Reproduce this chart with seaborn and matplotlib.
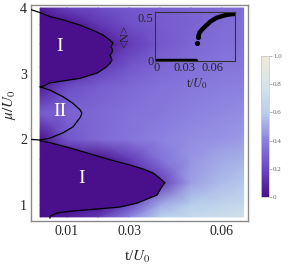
import numpy as np
import pandas as pd
import seaborn as sns
import matplotlib.pyplot as plt
from matplotlib.colors import LinearSegmentedColormap
from matplotlib.patches import Rectangle

# Heatmap grid
t_grid = [0.0013, 0.01, 0.02, 0.03, 0.04, 0.05, 0.06, 0.067]
mu_grid = [0.82, 1.0, 1.34, 1.7, 2.0, 2.4, 2.8, 3.1, 3.45, 3.75, 4.0]
heat_values = [
    [0.00, 0.05, 0.15, 0.40, 0.60, 0.68, 0.72, 0.75],
    [0.00, 0.00, 0.00, 0.20, 0.50, 0.60, 0.65, 0.68],
    [0.00, 0.00, 0.00, 0.00, 0.15, 0.48, 0.55, 0.58],
    [0.00, 0.00, 0.00, 0.15, 0.35, 0.45, 0.50, 0.52],
    [0.00, 0.25, 0.32, 0.36, 0.40, 0.43, 0.45, 0.47],
    [0.28, 0.30, 0.32, 0.35, 0.37, 0.40, 0.42, 0.43],
    [0.05, 0.22, 0.28, 0.32, 0.35, 0.37, 0.39, 0.40],
    [0.00, 0.00, 0.15, 0.25, 0.31, 0.34, 0.36, 0.37],
    [0.00, 0.00, 0.00, 0.15, 0.26, 0.31, 0.34, 0.35],
    [0.00, 0.00, 0.14, 0.23, 0.27, 0.30, 0.33, 0.34],
    [0.05, 0.18, 0.22, 0.26, 0.28, 0.30, 0.32, 0.33],
]

# Lobe boundaries
lobe1_top_t = [-0.0019, 0.0013, 0.0045, 0.0087, 0.0142, 0.0184, 0.0216, 0.0239, 0.0248, 0.0242,
               0.0248, 0.0239, 0.0245, 0.0239, 0.0226, 0.0197, 0.0142, 0.0087, 0.0045, 0.0023, 0.0013]
lobe1_top_mu = [3.98, 3.93, 3.87, 3.82, 3.74, 3.66, 3.59, 3.51, 3.47, 3.41,
                3.35, 3.28, 3.21, 3.16, 3.10, 3.01, 2.93, 2.89, 2.86, 2.81, 2.80]
lobe2_t = [0.0013, 0.0045, 0.0087, 0.0119, 0.0142, 0.0148, 0.0142, 0.0119, 0.0087, 0.0045, 0.0013, -0.0016]
lobe2_mu = [2.80, 2.75, 2.65, 2.55, 2.45, 2.40, 2.33, 2.19, 2.10, 2.02, 1.99, 2.0]
lobe1_bot_t = [0.0013, 0.0045, 0.0110, 0.0174, 0.0239, 0.0303, 0.0345, 0.0377, 0.0394, 0.0406, 0.0416,
               0.0406, 0.0400, 0.0390, 0.0368, 0.0326, 0.0271, 0.0197, 0.0119, 0.0068, 0.0045, 0.0045]
lobe1_bot_mu = [1.98, 1.95, 1.87, 1.78, 1.69, 1.61, 1.55, 1.49, 1.43, 1.38, 1.34,
                1.28, 1.23, 1.15, 1.11, 1.03, 0.97, 0.94, 0.91, 0.88, 0.83, 0.80]

# Inset: <N> vs t/U0
inset_zero_t = [0.0, 0.004, 0.008, 0.012, 0.016, 0.02, 0.024, 0.028, 0.032, 0.036, 0.04, 0.042]
inset_zero_n = [0.0, 0.0, 0.0, 0.0, 0.0, 0.0, 0.0, 0.0, 0.0, 0.0, 0.0, 0.0]
inset_rise_t = [0.043, 0.0445, 0.046, 0.05, 0.054, 0.058, 0.064, 0.07, 0.075, 0.08, 0.084]
inset_rise_n = [0.21, 0.28, 0.33, 0.38, 0.42, 0.46, 0.50, 0.52, 0.535, 0.543, 0.547]

cbar_ticks = [0, 0.2, 0.4, 0.6, 0.8, 1.0]
cbar_labels = ["0", "0.2", "0.4", "0.6", "0.8", "1.0"]

sns.set_style("white")
plt.rcParams['font.family'] = ['Liberation Serif', 'DejaVu Serif']
plt.rcParams['mathtext.fontset'] = 'stix'

cmap = LinearSegmentedColormap.from_list("phase", [
    (0.0, "#4a108c"), (0.2, "#6a48c4"), (0.4, "#8c80e0"),
    (0.6, "#b8d0ec"), (0.8, "#d9e4e8"), (1.0, "#f0eadb")])

fig = plt.figure(figsize=(2.88, 2.64), dpi=100)
ax = fig.add_axes([0.108, 0.163, 0.753, 0.818])

T, M = np.meshgrid(t_grid, mu_grid)
mesh = ax.pcolormesh(T, M, np.array(heat_values), cmap=cmap, vmin=0, vmax=1,
                     shading='gouraud', zorder=1)

clip = Rectangle((t_grid[0], mu_grid[0]), t_grid[-1] - t_grid[0], mu_grid[-1] - mu_grid[0],
                 transform=ax.transData)
for tt, mm in [(lobe1_top_t, lobe1_top_mu), (lobe1_bot_t, lobe1_bot_mu)]:
    poly = ax.fill(tt, mm, color=cmap(0.0), lw=0, zorder=2)[0]
    poly.set_clip_path(clip)

for tt, mm in [(lobe1_top_t, lobe1_top_mu), (lobe2_t, lobe2_mu), (lobe1_bot_t, lobe1_bot_mu)]:
    df = pd.DataFrame({"t": tt, "mu": mm})
    sns.lineplot(data=df, x="t", y="mu", sort=False, estimator=None, color="black",
                 lw=0.9, ax=ax, zorder=3)

ax.text(0.0077, 3.41, "I", color="white", fontsize=14, ha="center", va="center", zorder=4)
ax.text(0.0077, 2.42, "II", color="white", fontsize=14, ha="center", va="center", zorder=4)
ax.text(0.0148, 1.41, "I", color="white", fontsize=14, ha="center", va="center", zorder=4)

ax.set_xlim(-0.0016, 0.0684)
ax.set_ylim(0.758, 4.046)
ax.set_xticks([0.01, 0.03, 0.06])
ax.set_xticklabels(["0.01", "0.03", "0.06"])
ax.set_yticks([1, 2, 3, 4])
ax.set_yticklabels(["1", "2", "3", "4"])
ax.tick_params(direction="in", length=3, width=0.8, color="#777777", labelsize=10, pad=3)
for s in ax.spines.values():
    s.set_color("#8a8a8a")
    s.set_linewidth(1.0)
ax.set_xlabel(r"t/$U_0$", fontsize=11)
ax.set_ylabel(r"$\mu/U_0$", fontsize=11)
ax.xaxis.set_label_coords(0.49, -0.13)
ax.yaxis.set_label_coords(-0.062, 0.537)

# inset
axin = fig.add_axes([0.538, 0.769, 0.278, 0.186])
axin.patch.set_alpha(0)
sns.lineplot(x=inset_zero_t, y=inset_zero_n, color="black", lw=3.2, ax=axin)
sns.lineplot(x=inset_rise_t[1:], y=inset_rise_n[1:], color="black", lw=3.2, ax=axin)
sns.scatterplot(x=inset_rise_t[:2], y=inset_rise_n[:2], color="black", s=14, lw=0, ax=axin)
axin.set_xlim(-0.002, 0.084)
axin.set_ylim(-0.005, 0.57)
axin.set_xticks([0, 0.03, 0.06])
axin.set_xticklabels(["0", "0.03", "0.06"])
axin.set_yticks([0, 0.5])
axin.set_yticklabels(["0", "0.5"])
axin.tick_params(length=0, labelsize=9, pad=1)
for s in axin.spines.values():
    s.set_color("#333333")
    s.set_linewidth(0.8)
axin.set_xlabel(r"t/$U_0$", fontsize=9)
axin.set_ylabel(r"<N>", fontsize=9, color="#222222")
axin.xaxis.set_label_coords(0.525, -0.30)
axin.yaxis.set_label_coords(-0.30, 0.49)

# colorbar
cax = fig.add_axes([0.906, 0.254, 0.028, 0.534])
cb = fig.colorbar(mesh, cax=cax, ticks=cbar_ticks)
cb.ax.set_yticklabels(cbar_labels)
cb.ax.tick_params(labelsize=5, length=2, width=0.5, color="#999999", labelcolor="#666666", pad=1)
cb.outline.set_edgecolor("#cccccc")
cb.outline.set_linewidth(0.6)

fig.savefig("out.png", dpi=100)
